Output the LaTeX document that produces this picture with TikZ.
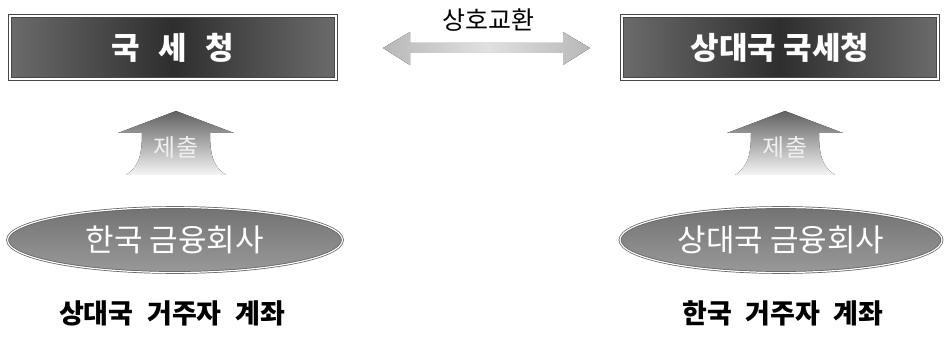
\documentclass[tikz,border=0pt]{standalone}
\usepackage{fontspec}
\setmainfont{Noto Sans CJK KR}
\usetikzlibrary{shapes.geometric}
\tikzset{
  titlebox/.style={draw=black!72, line width=0.9pt, double=white, double distance=1.3pt,
    left color=black!58, right color=black!58, middle color=black!82,
    minimum width=326pt, minimum height=63pt, inner sep=0pt,
    text=white, font=\bfseries\fontsize{31}{33}\selectfont},
  firm/.style={ellipse, draw=black!65, line width=0.7pt, double=white, double distance=1.2pt,
    top color=black!55, bottom color=black!40, inner sep=0pt,
    text=white, font=\fontsize{31}{33}\selectfont},
  upshape/.style={top color=black!62, bottom color=black!4, draw=none},
  swap/.style={left color=black!28, right color=black!28, middle color=black!12, draw=none},
  acct/.style={font=\bfseries\fontsize{27}{29}\selectfont, text=black},
  submit/.style={text=black!6, font=\fontsize{24}{26}\selectfont},
}
\begin{document}
\begin{tikzpicture}[x=1pt,y=-1pt]
\useasboundingbox (0,0) rectangle (944,339);
% title boxes
\node[titlebox] (nts) at (173,47.5) {국\hspace{0.6em}세\hspace{0.6em}청};
\node[titlebox, minimum width=316pt] (fnts) at (780,47.5) {상대국 국세청};
% exchange arrow
\coordinate (lt) at (383,48);
\coordinate (rt) at (590,48);
\fill[swap] (lt) -- ++(27,-16) -- ++(0,11) -- ++(153,0) -- ++(0,-11) -- (rt)
  -- ++(-27,17) -- ++(0,-12) -- ++(-153,0) -- ++(0,12) -- cycle;
\node[font=\fontsize{25}{27}\selectfont] (xch) at (488,20) {상호교환};
% up arrows
\foreach \cx/\nm in {176/la, 785/ra}{
  \coordinate (\nm) at (\cx,111);
  \fill[upshape] (\nm) -- ++(58,22) -- ++(-24,0)
    .. controls ++(0,24) and ++(-12,-8) .. ++(16,42)
    -- ++(-100,0)
    .. controls ++(12,-8) and ++(0,24) .. ++(16,-42)
    -- ++(-24,0) -- cycle;
  \node[submit] (\nm s) at (\cx,147) {제출};
}
% firms
\node[firm, minimum width=335pt, minimum height=65pt] (kf) at (175,240) {한국 금융회사};
\node[firm, minimum width=322pt, minimum height=65pt] (ff) at (781,240) {상대국 금융회사};
% accounts
\node[acct] (acc1) at (172,313) {상대국\hspace{0.5em}거주자\hspace{0.5em}계좌};
\node[acct] (acc2) at (783,313) {한국\hspace{0.5em}거주자\hspace{0.5em}계좌};
\end{tikzpicture}
\end{document}
